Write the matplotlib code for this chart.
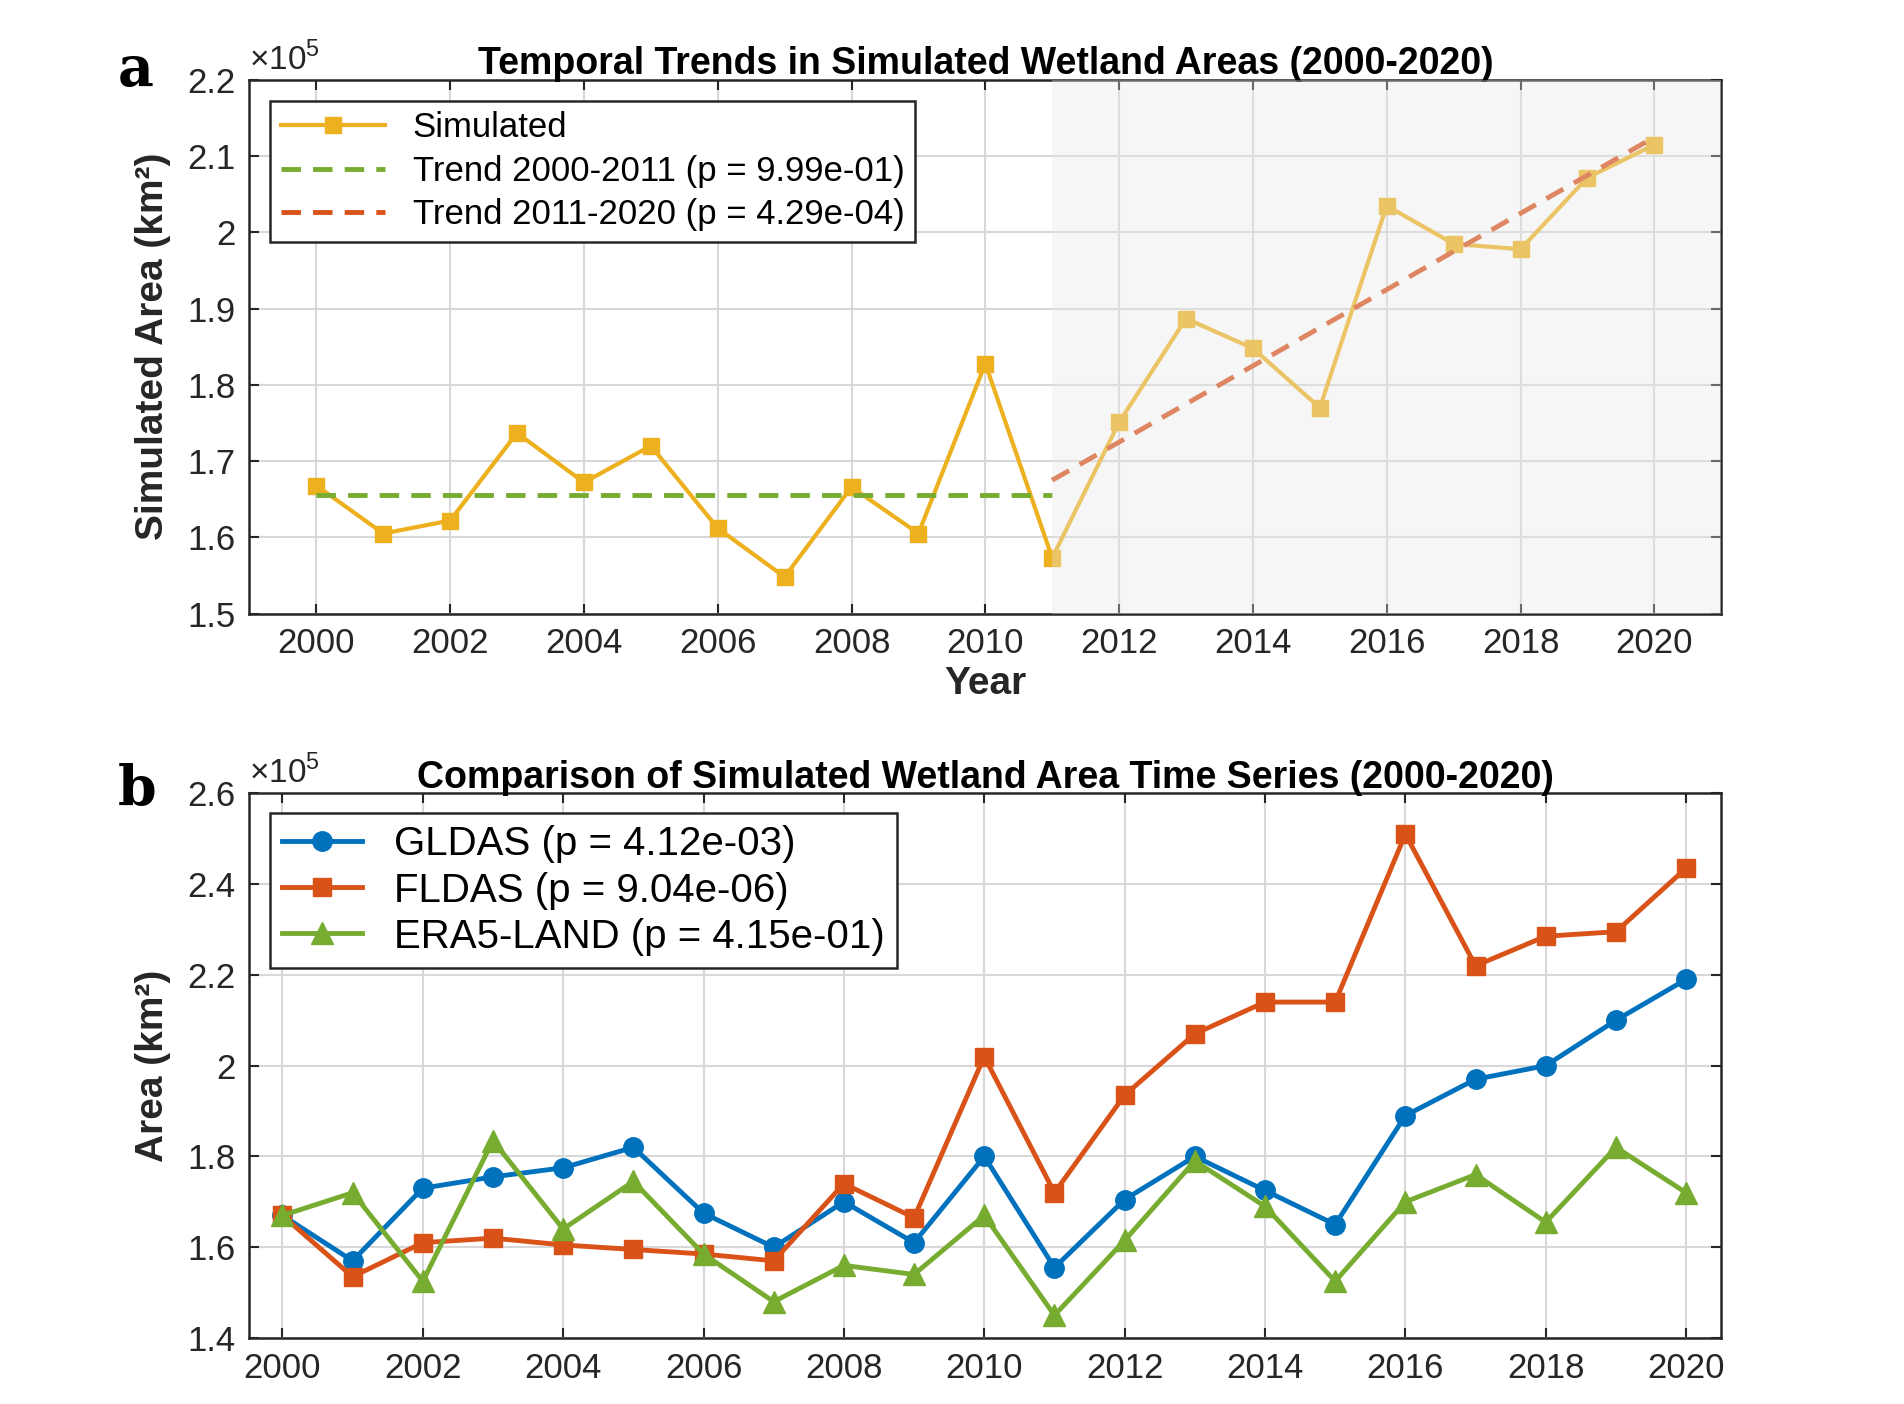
import matplotlib.pyplot as plt
import numpy as np
from matplotlib.ticker import FuncFormatter

plt.rcParams['font.family'] = ['Liberation Sans', 'DejaVu Sans']
plt.rcParams['mathtext.fontset'] = 'custom'
plt.rcParams['mathtext.rm'] = 'Liberation Sans'

years = np.arange(2000, 2021)
simulated = np.array([1.668, 1.605, 1.622, 1.737, 1.672, 1.720, 1.612, 1.548, 1.666, 1.605, 1.828,
                      1.573, 1.751, 1.887, 1.848, 1.770, 2.035, 1.985, 1.978, 2.072, 2.115]) * 1e5
trend1_x = [2000, 2011]
trend1_y = np.array([1.655, 1.655]) * 1e5
trend2_x = [2011, 2020]
trend2_y = np.array([1.675, 2.125]) * 1e5

gldas = np.array([1.67, 1.57, 1.73, 1.755, 1.775, 1.82, 1.675, 1.60, 1.70, 1.61, 1.80,
                  1.555, 1.705, 1.80, 1.725, 1.65, 1.89, 1.97, 2.00, 2.10, 2.19]) * 1e5
fldas = np.array([1.67, 1.535, 1.61, 1.62, 1.605, 1.595, 1.585, 1.57, 1.74, 1.665, 2.02,
                  1.72, 1.935, 2.07, 2.14, 2.14, 2.51, 2.22, 2.285, 2.295, 2.435]) * 1e5
era5 = np.array([1.67, 1.72, 1.525, 1.835, 1.64, 1.745, 1.585, 1.48, 1.56, 1.54, 1.67,
                 1.45, 1.615, 1.79, 1.69, 1.525, 1.70, 1.76, 1.655, 1.82, 1.72]) * 1e5

YEL, BLU, RED, GRN = '#EDB120', '#0072BD', '#D95319', '#77AC30'

fig = plt.figure(figsize=(19.04, 14.04), dpi=100)
ax1 = fig.add_axes([0.131, 0.563, 0.773, 0.380])
ax2 = fig.add_axes([0.131, 0.047, 0.773, 0.388])

def style(ax):
    ax.grid(True, color='#d8d8d8', lw=1.5)
    ax.set_axisbelow(True)
    for s in ax.spines.values():
        s.set_color('#262626'); s.set_linewidth(1.8)
    ax.tick_params(direction='in', top=True, right=True, labelsize=25, length=7, width=1.5,
                   colors='#262626', pad=10)
    ax.yaxis.set_major_formatter(FuncFormatter(lambda v, p: f'{v / 1e5:g}'))
    ax.text(0.0, 1.005, r'$\times10^5$', transform=ax.transAxes, fontsize=24, color='#262626', va='bottom')

# panel a
ax1.plot(years, simulated, '-s', color=YEL, lw=3, ms=12, label='Simulated', zorder=3)
ax1.plot(trend1_x, trend1_y, '--', color=GRN, lw=3.5, dashes=(4, 2.5), label='Trend 2000-2011 (p = 9.99e-01)', zorder=3)
ax1.plot(trend2_x, trend2_y, '--', color=RED, lw=3.5, dashes=(4, 2.5), label='Trend 2011-2020 (p = 4.29e-04)', zorder=3)
ax1.axvspan(2011, 2021, facecolor='#e8e8e8', alpha=0.35, zorder=4, lw=0)
ax1.set_xlim(1999, 2021)
ax1.set_ylim(1.5e5, 2.2e5)
ax1.set_xticks(range(2000, 2021, 2))
ax1.set_yticks(np.arange(1.5, 2.21, 0.1) * 1e5)
style(ax1)
ax1.set_xlabel('Year', fontsize=28, fontweight='bold', color='#262626', labelpad=4)
ax1.set_ylabel('Simulated Area (km²)', fontsize=28, fontweight='bold', color='#262626', labelpad=12)
ax1.set_title('Temporal Trends in Simulated Wetland Areas (2000-2020)', fontsize=27, fontweight='bold', pad=4)
leg = ax1.legend(loc='upper left', fontsize=25, fancybox=False, framealpha=1, edgecolor='#262626',
                 handlelength=3, borderaxespad=0.6, labelspacing=0.3, borderpad=0.3)
leg.get_frame().set_linewidth(1.8)
leg.set_zorder(5)

# panel b
ax2.plot(years, gldas, '-o', color=BLU, lw=3.5, ms=14, label='GLDAS (p = 4.12e-03)')
ax2.plot(years, fldas, '-s', color=RED, lw=3.5, ms=13, label='FLDAS (p = 9.04e-06)')
ax2.plot(years, era5, '-^', color=GRN, lw=3.5, ms=16, label='ERA5-LAND (p = 4.15e-01)')
ax2.set_xlim(1999.53, 2020.5)
ax2.set_ylim(1.4e5, 2.6e5)
ax2.set_xticks(range(2000, 2021, 2))
ax2.set_yticks(np.arange(1.4, 2.61, 0.2) * 1e5)
style(ax2)
ax2.set_ylabel('Area (km²)', fontsize=28, fontweight='bold', color='#262626', labelpad=12)
ax2.set_title('Comparison of Simulated Wetland Area Time Series (2000-2020)', fontsize=27, fontweight='bold', pad=4)
leg2 = ax2.legend(loc='upper left', fontsize=29, fancybox=False, framealpha=1, edgecolor='#262626',
                  handlelength=2.0, borderaxespad=0.5, labelspacing=0.2, borderpad=0.3)
leg2.get_frame().set_linewidth(1.8)

fig.text(0.062, 0.950, 'a', fontsize=40, fontweight='bold', family='DejaVu Serif', va='center')
fig.text(0.062, 0.437, 'b', fontsize=40, fontweight='bold', family='DejaVu Serif', va='center')

fig.savefig('out.png', dpi=100, facecolor='white')
